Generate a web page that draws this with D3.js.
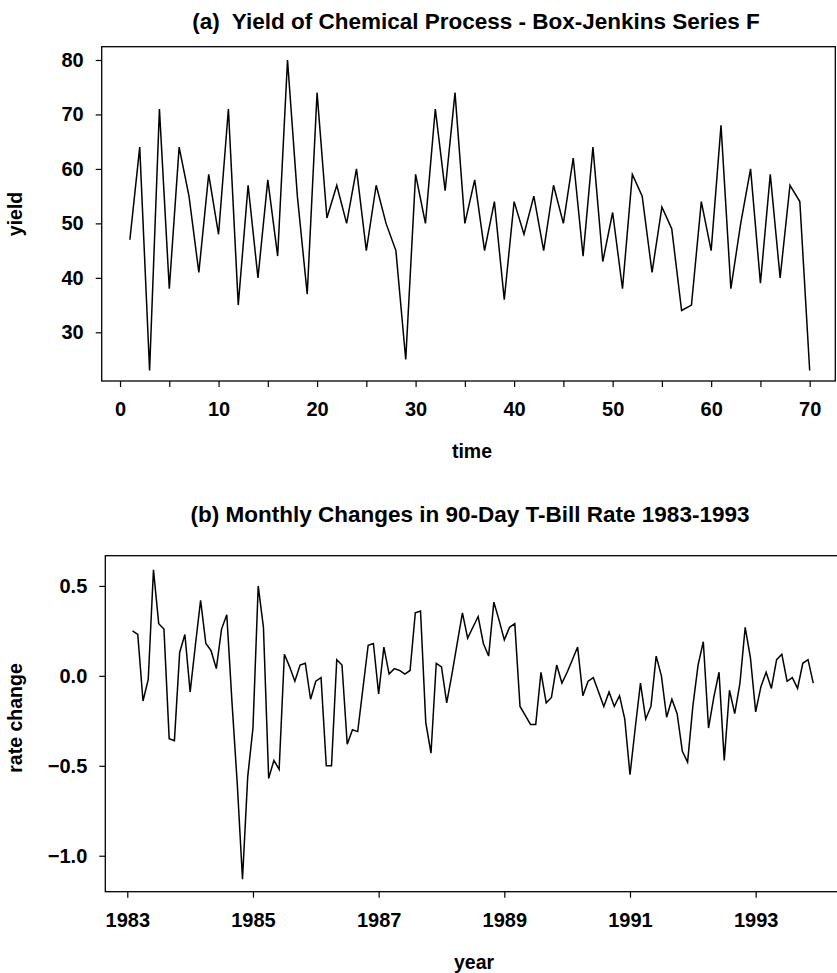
<!DOCTYPE html>
<html>
<head>
<meta charset="utf-8">
<script src="https://cdn.jsdelivr.net/npm/d3@7"></script>
<style>
  body { margin: 0; background: #fff; }
  svg { display: block; }
  text { font-family: "Liberation Sans", Arial, sans-serif; fill: #000; }
</style>
</head>
<body>
<svg id="chart" width="837" height="973"></svg>
<script>
// (a) Box-Jenkins Series F, yield of chemical process, t = 1..70
var yieldF = [47, 64, 23, 71, 38, 64, 55, 41, 59, 48, 71, 35, 57, 40, 58, 44, 80, 55, 37, 74,
              51, 57, 50, 60, 45, 57, 50, 45, 25, 59, 50, 71, 56, 74, 50, 58, 45, 54, 36, 54,
              48, 55, 45, 57, 50, 62, 44, 64, 43, 52, 38, 59, 55, 41, 53, 49, 34, 35, 54, 45,
              68, 38, 50, 60, 39, 59, 40, 57, 54, 23]
var timeA = d3.range(1, yieldF.length + 1)
var xTicksA = [0, 5, 10, 15, 20, 25, 30, 35, 40, 45, 50, 55, 60, 65, 70]
var yTicksA = [30, 40, 50, 60, 70, 80]

// (b) monthly changes in 90-day T-bill rate, Feb 1983 .. Dec 1993
var startYear = 1983, startMonth = 2
var rateChange = [0.25, 0.23, -0.14, -0.02, 0.59, 0.29, 0.26, -0.35, -0.36, 0.13, 0.23,
                  -0.09, 0.17, 0.42, 0.18, 0.14, 0.04, 0.26, 0.34, -0.15, -0.60, -1.13, -0.56,
                  -0.29, 0.50, 0.27, -0.57, -0.47, -0.52, 0.12, 0.05, -0.03, 0.06, 0.07, -0.13,
                  -0.03, -0.01, -0.50, -0.50, 0.09, 0.06, -0.38, -0.30, -0.31, -0.07, 0.17, 0.18,
                  -0.10, 0.16, 0.01, 0.04, 0.03, 0.01, 0.03, 0.35, 0.36, -0.26, -0.43, 0.07, 0.05,
                  -0.15, 0.01, 0.18, 0.35, 0.21, 0.27, 0.33, 0.18, 0.11, 0.41, 0.31, 0.20, 0.27,
                  0.29, -0.17, -0.22, -0.27, -0.27, 0.02, -0.15, -0.12, 0.06, -0.04, 0.02, 0.09,
                  0.16, -0.11, -0.03, -0.01, -0.09, -0.17, -0.09, -0.17, -0.11, -0.24, -0.55, -0.29,
                  -0.04, -0.24, -0.17, 0.11, 0.00, -0.23, -0.13, -0.21, -0.42, -0.48, -0.17, 0.06,
                  0.19, -0.29, -0.12, 0.02, -0.47, -0.08, -0.21, -0.04, 0.27, 0.10, -0.20, -0.06,
                  0.02, -0.07, 0.09, 0.12, -0.03, -0.01, -0.07, 0.07, 0.09, -0.04]
var timeB = rateChange.map((d, i) => startYear + (startMonth - 1 + i) / 12)
var xTicksB = [1983, 1985, 1987, 1989, 1991, 1993]
var yTicksB = [0.5, 0.0, -0.5, -1.0]

var svg = d3.select("#chart")

function panel(o) {
  var g = svg.append("g")
  var xs = d3.scaleLinear().domain(o.xDomain).range([o.left, o.right])
  var ys = d3.scaleLinear().domain(o.yDomain).range([o.bottom, o.top])

  g.append("g")
    .attr("transform", "translate(0," + o.bottom + ")")
    .call(d3.axisBottom(xs).tickValues(o.xTicks).tickSize(6).tickPadding(15)
      .tickFormat(o.xFormat))
    .call(a => a.select(".domain").remove())

  g.append("g")
    .attr("transform", "translate(" + o.left + ",0)")
    .call(d3.axisLeft(ys).tickValues(o.yTicks).tickSize(6).tickPadding(12)
      .tickFormat(o.yFormat))
    .call(a => a.select(".domain").remove())

  g.selectAll(".tick line").attr("stroke", "#000").attr("stroke-width", 1.2)
  g.selectAll(".tick text")
    .attr("font-family", "Liberation Sans, Arial, sans-serif")
    .attr("font-size", 20)
    .attr("font-weight", "bold")

  g.append("rect")
    .attr("x", o.left)
    .attr("y", o.top)
    .attr("width", o.right - o.left)
    .attr("height", o.bottom - o.top)
    .attr("fill", "none")
    .attr("stroke", "#000")
    .attr("stroke-width", 1.3)

  var line = d3.line()
    .x(d => xs(d[0]))
    .y(d => ys(d[1]))

  g.append("path")
    .datum(d3.zip(o.xs, o.ys))
    .attr("d", line)
    .attr("fill", "none")
    .attr("stroke", "#000")
    .attr("stroke-width", 1.5)
    .attr("stroke-linejoin", "miter")

  g.append("text")
    .attr("x", o.titleX)
    .attr("y", o.titleY)
    .attr("text-anchor", "middle")
    .attr("font-size", 22.5)
    .attr("font-weight", "bold")
    .style("white-space", "pre")
    .text(o.title)

  g.append("text")
    .attr("x", o.xLabelX)
    .attr("y", o.bottom + 77)
    .attr("text-anchor", "middle")
    .attr("font-size", 19.5)
    .attr("font-weight", "bold")
    .text(o.xLabel)

  g.append("text")
    .attr("transform", "translate(22," + o.yLabelY + ") rotate(-90)")
    .attr("text-anchor", "middle")
    .attr("font-size", 19.5)
    .attr("font-weight", "bold")
    .text(o.yLabel)
}

panel({
  left: 101.7, right: 835.3, top: 46.7, bottom: 381,
  xDomain: [-1.86, 72.6], yDomain: [21.06, 82.44],
  xTicks: xTicksA, yTicks: yTicksA,
  xFormat: d => d % 10 === 0 ? d : "",
  yFormat: d => d,
  xs: timeA, ys: yieldF,
  title: "(a)  Yield of Chemical Process - Box-Jenkins Series F", titleX: 476, titleY: 29,
  xLabel: "time", xLabelX: 472,
  yLabel: "yield", yLabelY: 214
})

panel({
  left: 105.3, right: 840.5, top: 555.7, bottom: 891.7,
  xDomain: [1982.65, 1994.35], yDomain: [-1.2, 0.668],
  xTicks: xTicksB, yTicks: yTicksB,
  xFormat: d => d,
  yFormat: d3.format(".1f"),
  xs: timeB, ys: rateChange,
  title: "(b) Monthly Changes in 90-Day T-Bill Rate 1983-1993", titleX: 470, titleY: 522,
  xLabel: "year", xLabelX: 474,
  yLabel: "rate change", yLabelY: 718
})
</script>
</body>
</html>
